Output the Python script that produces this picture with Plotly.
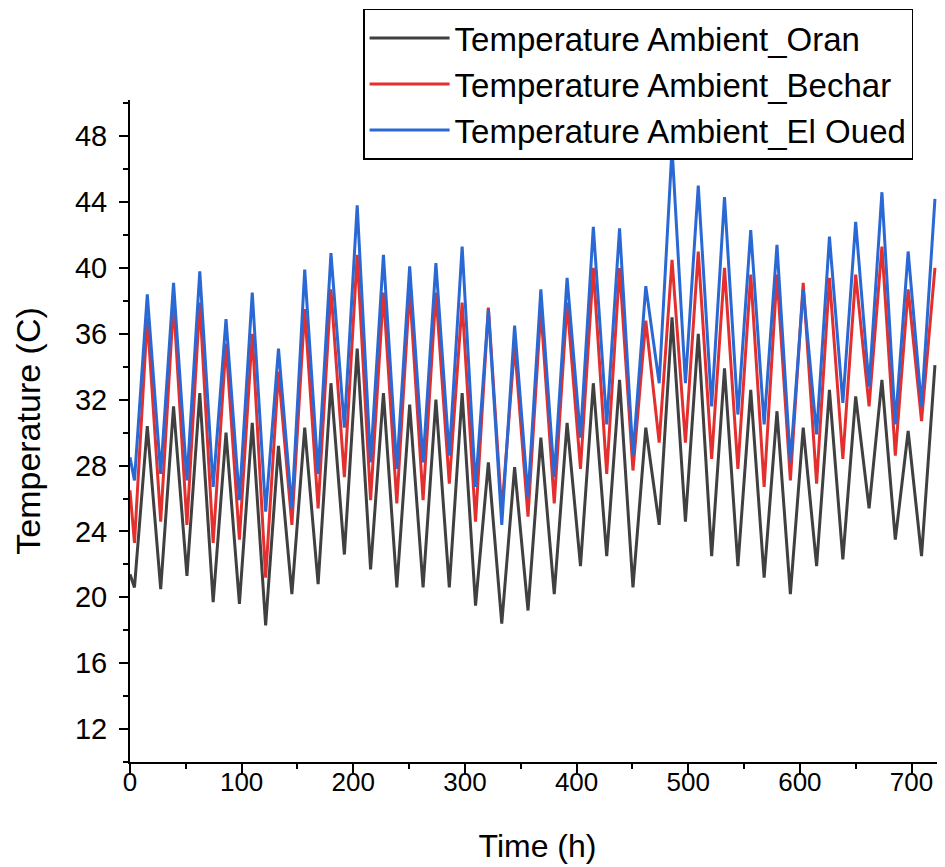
import plotly.graph_objects as go

# time (h) of start, daily minima / maxima (alternating) and the last point
hours = [0,
         4, 15.5, 27.5, 39, 51, 62.5, 74.5, 86, 98, 109.5,
         121.5, 133, 145, 156.5, 168.5, 180, 192, 203.5, 215.5, 227,
         239, 250.5, 262.5, 274, 286, 297.5, 309.5, 321, 333, 344.5,
         356.5, 368, 380, 391.5, 403.5, 415, 427, 438.5, 450.5, 462,
         474, 485.5, 497.5, 509, 521, 532.5, 544.5, 556, 568, 579.5,
         591.5, 603, 615, 626.5, 638.5, 650, 662, 673.5, 685.5, 697,
         709, 721]

oran = [21.4,
        20.6, 30.4, 20.5, 31.6, 21.3, 32.4, 19.7, 30.0, 19.6, 30.6,
        18.3, 29.2, 20.2, 30.3, 20.8, 33.0, 22.6, 35.1, 21.7, 32.4,
        20.6, 31.7, 20.6, 32.0, 20.6, 32.4, 19.5, 28.2, 18.4, 27.9,
        19.2, 29.7, 20.2, 30.6, 21.9, 33.0, 22.5, 33.2, 20.6, 30.3,
        24.4, 37.0, 24.6, 36.0, 22.5, 33.9, 21.9, 32.6, 21.2, 31.3,
        20.2, 30.3, 21.9, 32.6, 22.3, 32.2, 25.4, 33.2, 23.5, 30.1,
        22.5, 34.1]

bechar = [26.5,
          23.3, 37.0, 24.6, 37.9, 24.4, 37.9, 23.3, 35.4, 23.5, 36.0,
          21.2, 33.7, 24.4, 37.5, 25.4, 38.7, 27.3, 40.8, 25.9, 38.5,
          25.7, 38.7, 25.9, 38.5, 26.9, 37.9, 24.6, 37.6, 25.2, 35.3,
          24.9, 37.5, 25.7, 37.9, 27.8, 40.0, 27.5, 40.0, 27.7, 36.8,
          29.4, 40.5, 29.4, 41.0, 28.4, 40.0, 27.8, 39.6, 26.7, 39.6,
          27.1, 39.1, 26.9, 39.4, 28.4, 39.6, 31.6, 41.3, 28.6, 38.7,
          30.7, 40.0]

el_oued = [28.5,
           27.1, 38.4, 27.5, 39.1, 27.1, 39.8, 26.7, 36.9, 25.9, 38.5,
           25.2, 35.1, 25.4, 39.9, 27.5, 40.9, 30.3, 43.8, 28.2, 40.8,
           27.8, 40.1, 28.2, 40.3, 28.6, 41.3, 26.7, 37.5, 24.4, 36.5,
           26.1, 38.7, 27.3, 39.4, 29.7, 42.5, 30.5, 42.4, 28.6, 38.9,
           33.0, 47.3, 33.0, 45.0, 31.6, 44.3, 31.1, 42.3, 30.5, 41.4,
           28.2, 38.7, 29.9, 41.9, 31.8, 42.8, 32.8, 44.6, 30.5, 41.0,
           31.6, 44.2]

names = ["Temperature Ambient_Oran", "Temperature Ambient_Bechar",
         "Temperature Ambient_El Oued"]
colors = ["#404040", "#e3302f", "#2a68d4"]

fig = go.Figure()
for name, vals, col in zip(names, [oran, bechar, el_oued], colors):
    fig.add_trace(go.Scatter(x=hours, y=vals, mode="lines", name=name,
                             line=dict(color=col, width=3)))

axis_common = dict(showline=True, linecolor="black", linewidth=2,
                   ticks="outside", ticklen=9, tickwidth=2, tickcolor="black",
                   showgrid=False, zeroline=False, mirror=False, automargin=False)

# the page adds an 8 px body margin, so margins are reduced by 8 px on top/left
fig.update_layout(
    width=945, height=867,
    margin=dict(l=122, r=8, t=92, b=113, autoexpand=False),
    plot_bgcolor="white", paper_bgcolor="white",
    font=dict(family="Liberation Sans, Arial, sans-serif", color="black"),
    xaxis=dict(range=[0, 730], tick0=0, dtick=100,
               minor=dict(dtick=50, ticks="outside", ticklen=5, tickwidth=2, tickcolor="black"),
               tickfont=dict(size=26), ticklabelstandoff=-13,
               title=dict(text="Time (h)", font=dict(size=32), standoff=38),
               **axis_common),
    yaxis=dict(range=[10, 50.2], tick0=12, dtick=4,
               minor=dict(dtick=2, ticks="outside", ticklen=5, tickwidth=2, tickcolor="black"),
               tickfont=dict(size=29), ticklabelstandoff=6,
               title=dict(text="Temperature (C)", font=dict(size=34), standoff=24),
               **axis_common),
    legend=dict(x=0.286, y=1.138, xanchor="left", yanchor="top",
                bgcolor="white", bordercolor="black", borderwidth=1.5,
                font=dict(size=33), itemwidth=80, tracegroupgap=0),
)

fig.write_html("out.html")
